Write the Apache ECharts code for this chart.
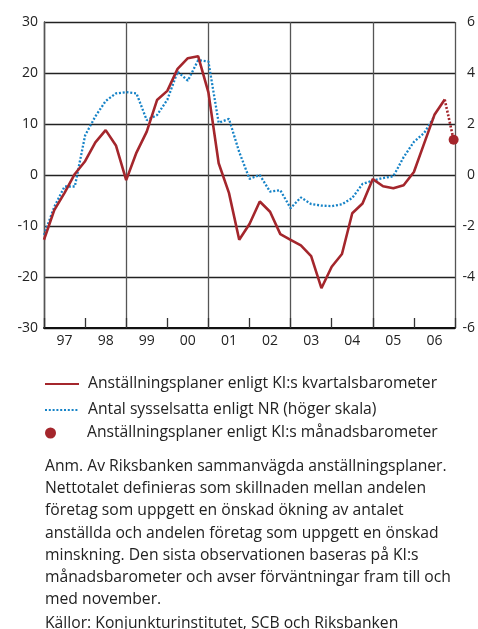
<!DOCTYPE html>
<html>
<head>
<meta charset="utf-8">
<script src="https://cdn.jsdelivr.net/npm/echarts@6/dist/echarts.min.js"></script>
<style>
  html, body { margin: 0; padding: 0; background: #fff; }
  #chart { width: 478px; height: 629px; }
</style>
</head>
<body>
<div id="chart"></div>
<script>
(function(){
    // årsetiketter under x-axeln
    var years = ['97','98','99','00','01','02','03','04','05','06'];
    // KI:s kvartalsbarometer, nettotal (vänster skala), kvartal från 1997
    var kvartal = [-12.7,-6.9,-3.5,0.2,2.7,6.4,8.8,5.8,-1.0,4.4,
                   8.5,14.7,16.5,20.8,22.9,23.3,16.2,2.3,-3.5,-12.7,
                   -9.6,-5.2,-7.2,-11.6,-12.7,-13.8,-15.9,-22.2,-18.0,-15.5,
                   -7.5,-5.6,-0.8,-2.2,-2.6,-2.0,0.6,6.2,11.8,14.8];
    // antal sysselsatta enligt NR, procent (höger skala)
    var nr = [-2.35,-1.25,-0.45,-0.45,1.55,2.3,2.9,3.2,3.25,3.2,
              2.15,2.35,2.95,4.05,3.7,4.5,4.45,2.05,2.2,0.9,
              -0.15,0.0,-0.65,-0.6,-1.3,-0.88,-1.14,-1.2,-1.22,-1.15,
              -0.9,-0.35,-0.22,-0.12,-0.05,0.7,1.3,1.65,2.3];
    // KI:s månadsbarometer, sista observationen (november 2006)
    var manad = [6.9];
    var manadMonth = 11;

    var names = [
        'Anställningsplaner enligt KI:s kvartalsbarometer',
        'Antal sysselsatta enligt NR (höger skala)',
        'Anställningsplaner enligt KI:s månadsbarometer'
    ];
    var red = '#a4262c';
    var blue = '#1683c7';
    var font = '"Open Sans", sans-serif';
    var txtSize = 15.7;

    // x = år sedan 1997, kvartal i steg om 0.25
    var redData = kvartal.map(function(v, i){ return [i / 4, v]; });
    var blueData = nr.map(function(v, i){ return [i / 4, v]; });
    var lastI = kvartal.length - 1;
    var manadX = 9 + (manadMonth + 0.6) / 12;
    var linkData = [[lastI / 4, kvartal[lastI]], [manadX, manad[0]]];

    var myChart = echarts.init(document.getElementById('chart'));
    myChart.setOption({
        animation: false,
        grid: { left: 44, right: 21, top: 22, bottom: 301 },
        xAxis: [
            {   // axellinje och tickar
                type: 'value', min: 0, max: 10, interval: 1,
                axisLine: { onZero: false, lineStyle: { color: '#111', width: 2 } },
                axisTick: { inside: true, length: 10, lineStyle: { color: '#333', width: 1.3 } },
                axisLabel: { show: false },
                splitLine: { show: false }
            },
            {   // vertikala stödlinjer vartannat år
                type: 'value', min: 0, max: 10, interval: 2, position: 'bottom',
                axisLine: { show: false }, axisTick: { show: false }, axisLabel: { show: false },
                splitLine: { show: true, lineStyle: { color: '#555', width: 1.3 } }
            },
            {   // årsetiketter mitt i varje år
                type: 'value', min: 0, max: 10, interval: 0.5, position: 'bottom',
                axisLine: { show: false }, axisTick: { show: false }, splitLine: { show: false },
                axisLabel: {
                    margin: 6, fontSize: 14, color: '#222', fontFamily: font,
                    formatter: function(v){
                        var f = Math.floor(v);
                        return (v - f === 0.5) ? years[f] : '';
                    }
                }
            }
        ],
        yAxis: [
            {
                type: 'value', min: -30, max: 30, interval: 10,
                axisLine: { show: true, lineStyle: { color: '#777', width: 1.3 } },
                axisTick: { show: false },
                axisLabel: { margin: 6, fontSize: 14, color: '#222', fontFamily: font },
                splitLine: { lineStyle: { color: '#222', width: 1.3 } }
            },
            {
                type: 'value', min: -6, max: 6, interval: 2,
                axisLine: { show: true, lineStyle: { color: '#555', width: 1.3 } },
                axisTick: { show: false },
                axisLabel: { margin: 20, align: 'right', fontSize: 14, color: '#222', fontFamily: font },
                splitLine: { show: false }
            }
        ],
        legend: [
            {
                orient: 'vertical', left: 44, top: 376, padding: 0,
                itemWidth: 34, itemHeight: 14, itemGap: 10,
                itemStyle: { opacity: 0 },
                textStyle: { fontSize: txtSize, color: '#222', fontFamily: font, padding: [0, 0, 0, 4] },
                data: [names[0], names[1]]
            },
            {
                orient: 'vertical', left: 45, top: 425, padding: 0,
                itemWidth: 11, itemHeight: 11,
                textStyle: { fontSize: txtSize, color: '#222', fontFamily: font, padding: [0, 0, 0, 26] },
                data: [names[2]]
            }
        ],
        series: [
            {
                name: names[1], type: 'line', yAxisIndex: 1, symbol: 'none',
                data: blueData,
                lineStyle: { color: blue, width: 2.3, type: [2, 1.8] },
                itemStyle: { color: blue }
            },
            {
                name: names[0], type: 'line', symbol: 'none',
                data: redData,
                lineStyle: { color: red, width: 2.6 },
                itemStyle: { color: red }
            },
            {
                name: 'länk', type: 'line', symbol: 'none',
                data: linkData,
                lineStyle: { color: red, width: 2.6, type: [2, 1.8] }
            },
            {
                name: names[2], type: 'scatter', symbolSize: 10,
                data: [[manadX, manad[0]]],
                itemStyle: { color: red, opacity: 1 }
            }
        ],
        graphic: [
            {
                type: 'text', left: 45, top: 455,
                style: {
                    text: 'Anm. Av Riksbanken sammanvägda anställningsplaner.\n' +
                          'Nettotalet definieras som skillnaden mellan andelen\n' +
                          'företag som uppgett en önskad ökning av antalet\n' +
                          'anställda och andelen företag som uppgett en önskad\n' +
                          'minskning. Den sista observationen baseras på KI:s\n' +
                          'månadsbarometer och avser förväntningar fram till och\n' +
                          'med november.',
                    font: txtSize + 'px ' + font, fill: '#222', lineHeight: 22.3
                }
            },
            {
                type: 'text', left: 45, top: 616,
                style: {
                    text: 'Källor: Konjunkturinstitutet, SCB och Riksbanken',
                    font: txtSize + 'px ' + font, fill: '#222'
                }
            }
        ]
    });
})();
</script>
</body>
</html>
